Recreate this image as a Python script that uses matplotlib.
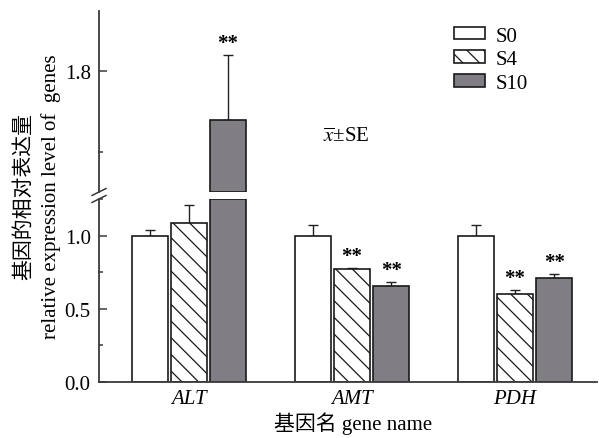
import numpy as np
import matplotlib
matplotlib.use('Agg')
import matplotlib.pyplot as plt
from matplotlib.patches import Patch
from matplotlib.ticker import MultipleLocator

plt.rcParams['font.family'] = ['Liberation Serif', 'Noto Sans CJK SC']
plt.rcParams['mathtext.fontset'] = 'stix'
plt.rcParams['hatch.linewidth'] = 0.9

genes = ['ALT', 'AMT', 'PDH']
labels = ['S0', 'S4', 'S10']
s0_mean = [1.00, 1.00, 1.00]
s4_mean = [1.087, 0.772, 0.598]
s10_mean = [1.74, 0.653, 0.712]
s0_se = [0.04, 0.07, 0.07]
s4_se = [0.12, 0.005, 0.03]
s10_se = [0.08, 0.027, 0.023]
s0_sig = ['', '', '']
s4_sig = ['', '**', '**']
s10_sig = ['**', '**', '**']

lo_lim = (0, 1.25)
hi_lim = (1.65, 1.875)

fig = plt.figure(figsize=(5.99, 4.39), dpi=100)
ax_lo = fig.add_axes([0.1653, 0.1276, 0.8314, 0.4169])
ax_hi = fig.add_axes([0.1653, 0.5604, 0.8314, 0.4123])

x = np.arange(len(genes))
width = 0.22
offsets = [-0.24, 0, 0.24]
styles = [dict(color='white', hatch=None),
          dict(color='white', hatch='\\\\'),
          dict(color='#807d84', hatch=None)]
means = [s0_mean, s4_mean, s10_mean]
ses = [s0_se, s4_se, s10_se]
sigs = [s0_sig, s4_sig, s10_sig]
edge = '#1a1a1a'
spc = '#3a3a3a'

for m, se, sg, off, st in zip(means, ses, sigs, offsets, styles):
    m = np.array(m)
    se = np.array(se)
    xs = x + off
    # lower part, cut at the break
    ax_lo.bar(xs, np.minimum(m, lo_lim[1]), width, facecolor=st['color'],
              edgecolor=edge, linewidth=1.2, hatch=st['hatch'], zorder=2)
    # upper part for bars above the break
    big = m > hi_lim[0]
    if big.any():
        ax_hi.bar(xs[big], m[big] - hi_lim[0], width, bottom=hi_lim[0],
                  facecolor=st['color'], edgecolor=edge, linewidth=1.2,
                  hatch=st['hatch'], zorder=2)
    for ax, sel in [(ax_lo, ~big), (ax_hi, big)]:
        if sel.any():
            ax.errorbar(xs[sel], m[sel], yerr=[np.zeros(sel.sum()), se[sel]],
                        fmt='none', ecolor='#222222', elinewidth=1.0,
                        capsize=3.3, capthick=1.0, zorder=1)
            for xi, top, s in zip(xs[sel], m[sel] + se[sel], np.array(sg)[sel]):
                if s:
                    ax.annotate(s, (xi, top), xytext=(0, 9), textcoords='offset points',
                                ha='center', va='center', fontsize=15, fontweight='bold')

for ax in (ax_lo, ax_hi):
    ax.set_xlim(-0.552, 2.503)
    ax.spines['top'].set_visible(False)
    ax.spines['right'].set_visible(False)
    ax.spines['left'].set_color(spc)
    ax.spines['left'].set_linewidth(1.3)
    ax.tick_params(axis='y', which='major', direction='in', length=5.5, width=1.1,
                   color=spc, labelsize=15, pad=6)
    ax.tick_params(axis='y', which='minor', direction='in', length=2.8, width=1.1, color=spc)
    ax.patch.set_alpha(0)

ax_lo.set_ylim(*lo_lim)
ax_lo.yaxis.set_major_locator(MultipleLocator(0.5))
ax_lo.yaxis.set_minor_locator(MultipleLocator(0.25))
ax_lo.yaxis.set_major_formatter(matplotlib.ticker.FormatStrFormatter('%.1f'))
ax_lo.spines['bottom'].set_color(spc)
ax_lo.spines['bottom'].set_linewidth(1.3)
ax_lo.set_xticks(x)
ax_lo.set_xticklabels(genes, fontstyle='italic', fontsize=15)
ax_lo.tick_params(axis='x', length=0, pad=5)

ax_hi.set_ylim(*hi_lim)
ax_hi.yaxis.set_major_locator(MultipleLocator(0.2))
ax_hi.yaxis.set_minor_locator(MultipleLocator(0.1))
ax_hi.yaxis.set_major_formatter(matplotlib.ticker.FormatStrFormatter('%.1f'))
ax_hi.spines['bottom'].set_visible(False)
ax_hi.set_xticks([])

# break marks
dx, dy = 0.014, 0.019
ax_lo.plot([-dx, dx], [1 - dy, 1 + dy], transform=ax_lo.transAxes, color=spc,
           lw=1.1, clip_on=False)
ax_hi.plot([-dx, dx], [-dy, dy], transform=ax_hi.transAxes, color=spc,
           lw=1.1, clip_on=False)

handles = [Patch(facecolor=st['color'], edgecolor=edge, hatch=st['hatch'], linewidth=1.2)
           for st in styles]
fig.legend(handles, labels, loc='upper left', bbox_to_anchor=(0.727, 0.98),
           frameon=False, fontsize=15, handlelength=1.5, handleheight=0.55,
           labelspacing=0.22, handletextpad=0.5)

fig.text(323 / 599, 1 - 137 / 439, r'$\overline{x}$±SE', fontsize=15, va='center', ha='left')
fig.text(353 / 599, 1 - 424 / 439, '基因名 gene name', fontsize=15, ha='center', va='center')
fig.text(24 / 599, 1 - 196 / 439, '基因的相对表达量', fontsize=15, rotation=90,
         ha='center', va='center')
fig.text(51 / 599, 1 - 197 / 439, 'relative expression level of  genes', fontsize=15,
         rotation=90, ha='center', va='center')

fig.savefig('out.png', dpi=100)
